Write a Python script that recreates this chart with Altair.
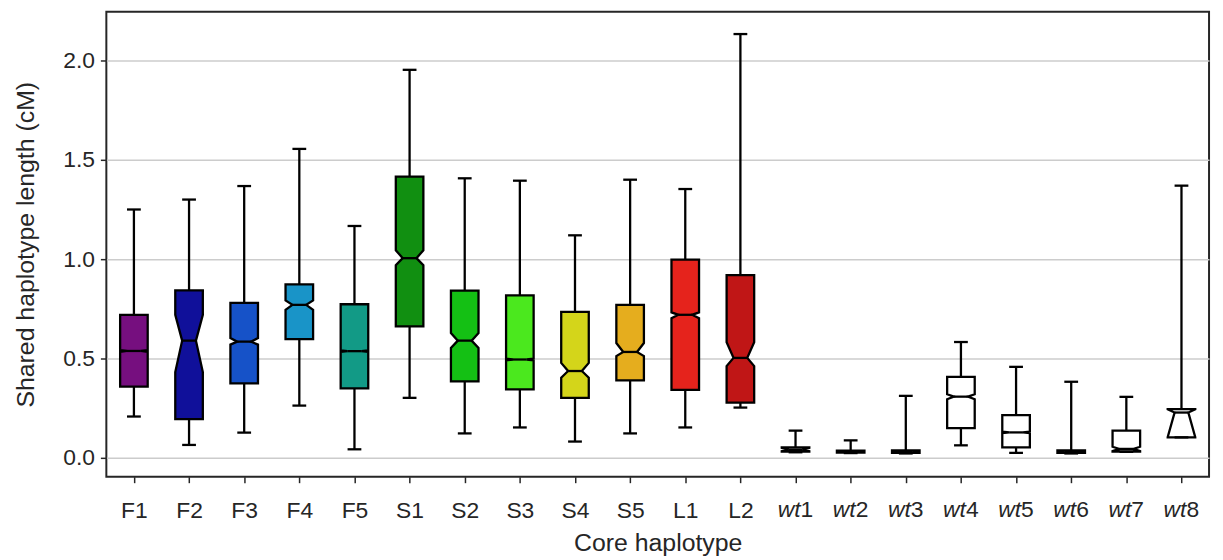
import json
import altair as alt
import pandas as pd

# ---- data ----
cats = ["F1", "F2", "F3", "F4", "F5", "S1", "S2", "S3", "S4", "S5", "L1", "L2",
        "wt1", "wt2", "wt3", "wt4", "wt5", "wt6", "wt7", "wt8"]
colors = ["#760f7f", "#10109a", "#1652c8", "#1994c8", "#129a86", "#118f11",
          "#14c014", "#4be81e", "#d4d51a", "#e5ad1e", "#e5231c", "#c01616",
          "#ffffff", "#ffffff", "#ffffff", "#ffffff", "#ffffff", "#ffffff",
          "#ffffff", "#ffffff"]
whisk_lo = [0.208, 0.065, 0.127, 0.263, 0.043, 0.302, 0.123, 0.153, 0.082, 0.123,
            0.153, 0.253, 0.028, 0.024, 0.022, 0.063, 0.025, 0.022, 0.030, 0.103]
q1 = [0.358, 0.195, 0.375, 0.598, 0.350, 0.662, 0.385, 0.345, 0.302, 0.390,
      0.342, 0.278, 0.032, 0.026, 0.025, 0.150, 0.053, 0.025, 0.032, 0.103]
notch_lo = [0.534, 0.432, 0.570, 0.745, 0.533, 0.970, 0.553, 0.491, 0.403, 0.512,
            0.703, 0.462, 0.033, 0.027, 0.026, 0.295, 0.124, 0.026, 0.034, 0.104]
median = [0.538, 0.590, 0.585, 0.770, 0.537, 1.005, 0.590, 0.495, 0.437, 0.533,
          0.720, 0.503, 0.040, 0.030, 0.030, 0.308, 0.128, 0.030, 0.045, 0.228]
notch_hi = [0.542, 0.720, 0.603, 0.792, 0.541, 1.045, 0.628, 0.499, 0.478, 0.578,
            0.732, 0.582, 0.050, 0.034, 0.036, 0.320, 0.132, 0.036, 0.056, 0.244]
q3 = [0.720, 0.843, 0.780, 0.873, 0.773, 1.415, 0.842, 0.818, 0.735, 0.770,
      0.998, 0.920, 0.052, 0.036, 0.038, 0.408, 0.215, 0.038, 0.137, 0.245]
whisk_hi = [1.250, 1.300, 1.368, 1.555, 1.167, 1.953, 1.407, 1.395, 1.120, 1.400,
            1.353, 2.133, 0.137, 0.088, 0.312, 0.583, 0.458, 0.383, 0.307, 1.370]
y_ticks = [0.0, 0.5, 1.0, 1.5, 2.0]

BOX_HALF = 0.25     # half box width (x units)
NOTCH_HALF = 0.125  # half width at the notch waist
CAP_HALF = 0.125    # half cap width

n = len(cats)
stats = pd.DataFrame({
    "cat": cats, "pos": list(range(1, n + 1)),
    "wlo": whisk_lo, "q1": q1, "nlo": notch_lo, "med": median,
    "nhi": notch_hi, "q3": q3, "whi": whisk_hi,
})

rows = []
for i, c in enumerate(cats):
    pts = [(q1[i], BOX_HALF), (notch_lo[i], BOX_HALF), (median[i], NOTCH_HALF),
           (notch_hi[i], BOX_HALF), (q3[i], BOX_HALF)]
    for k, (yv, hw) in enumerate(pts):
        rows.append({"cat": c, "pos": i + 1, "k": k, "v": yv, "hw": hw})
verts = pd.DataFrame(rows)

wt_rows = [{"pos": i + 1, "pre": c[:2], "num": c[2:]} for i, c in enumerate(cats) if c.startswith("wt")]
wt_df = pd.DataFrame(wt_rows)

FONT = "Liberation Sans"
TXT = "#262626"
W, H = 1110, 468
TICK = 6
LPAD = 17
LFS = 23
LW = 2.3

xscale = alt.Scale(domain=[0.5, n + 0.5], nice=False, zero=False)
yscale = alt.Scale(domain=[-0.095, 2.245], nice=False, zero=False)

n_plain = sum(1 for c in cats if not c.startswith("wt"))
label_expr = ("datum.value <= %d ? %s[datum.value - 1] : ''"
              % (n_plain, json.dumps(cats[:n_plain]).replace('"', "'")))

xaxis = alt.Axis(values=list(range(1, n + 1)), labelExpr=label_expr, grid=False,
                 title="Core haplotype", titlePadding=8, labelPadding=LPAD)
yaxis = alt.Axis(values=y_ticks, format=".1f", grid=True,
                 title="Shared haplotype length (cM)", titlePadding=24, labelPadding=6)

X = lambda f: alt.X(f, scale=xscale, axis=xaxis)
Y = lambda f: alt.Y(f, scale=yscale, axis=yaxis)

base = alt.Chart(stats)

whiskers_hi = base.mark_rule(color="black", strokeWidth=LW).encode(
    x=X("pos:Q"), y=Y("q3:Q"), y2="whi:Q")
whiskers_lo = base.mark_rule(color="black", strokeWidth=LW).encode(
    x=X("pos:Q"), y=Y("wlo:Q"), y2="q1:Q")

boxes = alt.Chart(verts).transform_calculate(
    xl="datum.pos - datum.hw", xr="datum.pos + datum.hw"
).mark_area(orient="horizontal", stroke="black", strokeWidth=LW,
            strokeJoin="miter", opacity=1, fillOpacity=1).encode(
    y=Y("v:Q"), x=X("xl:Q"), x2="xr:Q",
    color=alt.Color("cat:N", scale=alt.Scale(domain=cats, range=colors), legend=None),
    detail="cat:N")

med_rule = base.transform_calculate(
    ml="datum.pos - %f" % NOTCH_HALF, mr="datum.pos + %f" % NOTCH_HALF
).mark_rule(color="black", strokeWidth=LW).encode(
    x=X("ml:Q"), x2="mr:Q", y=Y("med:Q"))

caps_base = base.transform_calculate(
    cl="datum.pos - %f" % CAP_HALF, cr="datum.pos + %f" % CAP_HALF)
cap_hi = caps_base.mark_rule(color="black", strokeWidth=LW).encode(
    x=X("cl:Q"), x2="cr:Q", y=Y("whi:Q"))
cap_lo = caps_base.mark_rule(color="black", strokeWidth=LW).encode(
    x=X("cl:Q"), x2="cr:Q", y=Y("wlo:Q"))

LABEL_Y = H + TICK + LPAD
wt_pre = alt.Chart(wt_df).mark_text(font=FONT, fontSize=LFS, fontStyle="italic",
                                    color=TXT, align="right", baseline="top", dx=5).encode(
    x=X("pos:Q"), y=alt.value(LABEL_Y), text="pre:N")
wt_num = alt.Chart(wt_df).mark_text(font=FONT, fontSize=LFS, color=TXT,
                                    align="left", baseline="top", dx=5).encode(
    x=X("pos:Q"), y=alt.value(LABEL_Y), text="num:N")

chart = alt.layer(
    whiskers_hi, whiskers_lo, boxes, med_rule, cap_hi, cap_lo, wt_pre, wt_num
).properties(
    width=W, height=H,
    autosize=alt.AutoSizeParams(type="none"),
    padding={"left": 99, "top": 2, "right": 6, "bottom": 82},
).configure_view(
    stroke=TXT, strokeWidth=2
).configure_axis(
    labelFont=FONT, titleFont=FONT, labelFontSize=LFS, titleFontSize=25,
    labelColor=TXT, titleColor=TXT, titleFontWeight="normal",
    tickColor=TXT, tickWidth=1.5, tickSize=TICK, domain=False,
    gridColor="#cccccc", gridWidth=1.5,
)

chart.save("out.html", embed_options={"renderer": "svg", "actions": False})
